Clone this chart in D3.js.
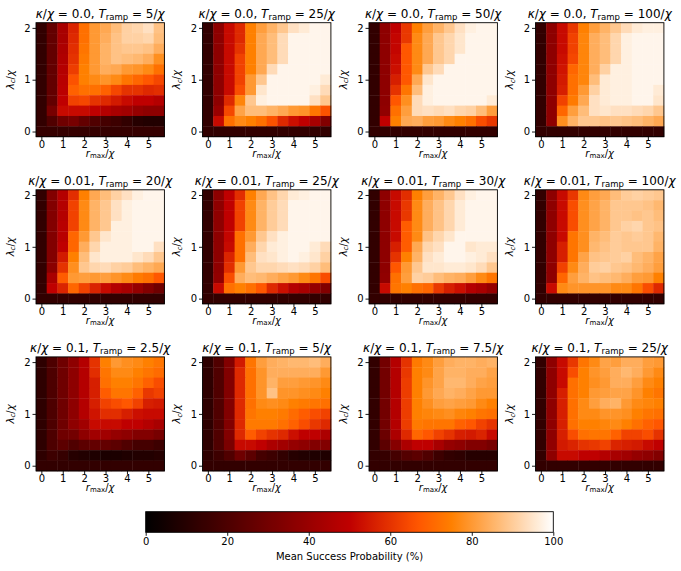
<!DOCTYPE html>
<html><head><meta charset="utf-8">
<script src="https://cdn.jsdelivr.net/npm/d3@7"></script>
<style>
body{margin:0;background:#fff}
svg{display:block}
text{font-family:"DejaVu Sans",sans-serif;fill:#000}
</style></head>
<body><svg id="c" width="681" height="571"></svg>
<script>
// ---------- data ----------
const rMax = [0, 0.5, 1, 1.5, 2, 2.5, 3, 3.5, 4, 4.5, 5, 5.5];
const lambdaC = [2.0, 1.8, 1.6, 1.4, 1.2, 1.0, 0.8, 0.6, 0.4, 0.2, 0.0]; // rows, top to bottom
const kappaLabels = ["0.0", "0.01", "0.1"];
const rampLabels = [["5", "25", "50", "100"], ["20", "25", "30", "100"], ["2.5", "5", "7.5", "25"]];
const xTicks = [0, 1, 2, 3, 4, 5];
const yTicks = [0, 1, 2];
const cbTicks = [0, 20, 40, 60, 80, 100];

// Mean success probability (%) ; rows = lambdaC (2.0 -> 0.0), columns = rMax
const succ_k0_T5 = [
 [13,26,44,57,72,80,83,87,91,92,94,88],
 [13,26,44,58,72,80,84,88,91,91,92,87],
 [13,26,45,59,73,80,85,88,89,89,88,84],
 [13,26,46,60,74,80,85,88,87,86,84,78],
 [13,26,47,62,75,80,84,83,80,79,77,72],
 [13,26,48,66,75,77,79,77,73,70,67,64],
 [13,26,49,69,72,72,69,64,60,60,58,59],
 [13,26,50,63,64,60,58,55,52,50,50,47],
 [13,31,52,52,52,50,47,44,42,39,37,37],
 [13,21,29,31,26,21,18,16,13,10,9,9],
 [14,14,14,14,14,14,14,14,14,14,14,14]];
const succ_k0_T25 = [
 [13,37,52,58,75,81,85,89,94,96,98,98],
 [13,37,52,58,75,83,87,93,98,98,98,98],
 [13,37,52,60,75,83,87,93,98,98,98,98],
 [13,37,52,63,75,83,87,93,98,98,98,98],
 [13,37,52,63,75,83,93,98,98,98,98,98],
 [13,37,52,63,80,89,98,98,98,98,98,96],
 [13,37,52,65,80,95,98,98,98,98,97,93],
 [13,37,58,76,89,97,98,98,98,98,94,89],
 [13,40,64,82,87,87,85,83,80,79,73,66],
 [13,52,72,77,75,72,66,58,53,50,44,34],
 [13,13,13,13,13,13,13,13,13,13,13,13]];
const succ_k0_T50 = [
 [13,37,50,61,75,81,85,89,94,97,98,98],
 [13,37,51,61,77,83,89,92,95,98,98,98],
 [13,37,51,67,77,83,89,92,95,98,98,98],
 [13,37,52,67,77,83,89,92,98,98,98,98],
 [13,37,53,67,77,89,93,98,98,98,98,98],
 [13,37,56,67,83,95,98,98,98,98,98,98],
 [13,37,60,73,87,97,98,98,98,98,98,98],
 [13,37,67,78,93,97,98,98,98,98,98,96],
 [13,38,72,81,93,94,93,94,92,91,87,81],
 [13,50,75,83,84,81,80,77,75,72,65,61],
 [13,13,13,13,13,13,13,13,13,13,13,13]];
const succ_k0_T100 = [
 [13,37,52,61,75,81,85,89,93,96,97,97],
 [13,37,52,63,76,84,87,92,97,98,98,98],
 [13,37,52,63,76,84,87,92,97,98,98,98],
 [13,37,53,64,76,84,87,92,97,98,98,98],
 [13,37,54,70,76,84,91,97,97,98,98,98],
 [13,37,55,72,76,87,96,97,97,98,98,98],
 [13,37,56,72,80,91,96,97,97,98,98,96],
 [13,37,63,74,83,94,96,97,97,98,98,95],
 [13,37,70,81,87,94,95,94,94,93,92,89],
 [13,37,78,85,89,89,88,89,88,87,85,83],
 [13,13,13,13,13,13,13,13,13,13,13,13]];
const succ_k001_T20 = [
 [13,34,47,59,75,83,87,91,94,97,98,98],
 [13,34,47,63,77,85,89,94,97,98,98,98],
 [13,34,47,63,77,85,89,94,97,98,98,98],
 [13,34,48,63,77,85,89,97,97,98,98,98],
 [13,34,48,70,80,89,95,97,97,98,98,98],
 [13,34,50,70,84,92,97,97,97,98,98,94],
 [13,34,55,75,87,95,97,97,97,95,93,89],
 [13,36,60,78,89,92,93,91,90,87,85,83],
 [13,44,68,80,81,80,81,79,77,74,72,67],
 [13,50,57,70,63,57,52,47,44,39,34,29],
 [13,13,13,13,13,13,13,13,13,13,13,13]];
const succ_k001_T25 = [
 [13,37,50,59,75,83,88,92,96,97,98,98],
 [13,37,50,63,77,85,90,93,98,98,98,98],
 [13,37,50,63,77,85,90,93,98,98,98,98],
 [13,37,50,63,77,85,90,93,98,98,98,98],
 [13,37,51,72,80,89,94,97,98,98,98,98],
 [13,37,52,72,84,92,96,97,98,98,96,93],
 [13,37,57,72,87,94,95,97,98,97,95,91],
 [13,37,59,80,89,92,92,93,94,93,91,87],
 [13,38,65,84,87,86,84,82,80,77,73,65],
 [13,52,72,75,72,67,58,53,47,44,39,34],
 [13,13,13,13,13,13,13,13,13,13,13,13]];
const succ_k001_T30 = [
 [13,37,52,59,75,81,85,89,94,97,98,98],
 [13,37,52,61,77,84,88,92,96,98,98,98],
 [13,37,52,61,77,84,88,92,96,98,98,98],
 [13,37,52,68,77,84,88,92,96,98,98,98],
 [13,37,52,68,77,88,92,95,98,98,98,98],
 [13,37,56,68,83,92,94,98,98,95,96,96],
 [13,37,60,75,85,94,96,98,98,97,96,94],
 [13,37,67,80,89,95,95,96,96,95,93,89],
 [13,38,72,81,91,90,87,85,84,81,77,73],
 [13,52,73,75,72,70,61,56,53,47,44,39],
 [13,13,13,13,13,13,13,13,13,13,13,13]];
const succ_k001_T100 = [
 [13,37,52,61,77,81,83,87,90,91,90,89],
 [13,37,52,65,78,82,85,89,89,89,88,86],
 [13,37,52,65,78,82,85,89,89,88,89,87],
 [13,37,52,65,78,82,85,89,91,92,89,88],
 [13,37,52,73,78,85,87,90,89,90,89,86],
 [13,37,56,73,78,86,88,90,89,89,89,85],
 [13,37,56,73,82,88,89,90,91,87,85,82],
 [13,37,63,77,84,90,91,89,88,86,84,81],
 [13,37,70,81,85,88,87,86,84,81,80,75],
 [13,52,77,79,79,79,79,77,77,73,65,58],
 [13,13,13,13,13,13,13,13,13,13,13,13]];
const succ_k01_T2p5 = [
 [12,20,29,37,47,60,75,80,78,77,75,73],
 [12,20,29,37,47,59,73,77,77,75,73,71],
 [12,20,29,37,47,56,72,75,75,73,69,65],
 [12,20,29,37,47,56,68,73,73,69,61,63],
 [12,20,29,37,47,56,63,65,67,63,56,55],
 [12,20,29,37,47,54,59,59,56,53,52,52],
 [12,20,29,37,42,52,52,52,50,50,47,44],
 [12,20,29,30,37,42,42,39,37,34,34,31],
 [12,20,24,21,24,26,26,24,21,18,18,16],
 [12,16,14,10,9,8,7,7,8,9,9,10],
 [13,13,13,13,13,13,13,13,13,13,13,13]];
const succ_k01_T5 = [
 [12,21,34,55,73,81,84,85,86,86,87,84],
 [12,21,34,58,72,79,84,84,84,84,84,80],
 [12,21,34,58,72,79,85,81,81,80,79,77],
 [12,21,34,58,72,79,88,79,79,78,77,75],
 [12,21,34,58,72,77,78,77,75,74,73,72],
 [12,21,34,58,73,75,75,74,71,68,65,63],
 [12,21,34,58,74,74,74,72,69,65,61,58],
 [12,21,34,58,68,63,60,58,53,50,50,45],
 [12,21,32,52,52,50,45,42,39,37,34,34],
 [12,16,21,29,24,18,16,13,10,9,8,8],
 [13,13,13,13,13,13,13,13,13,13,13,13]];
const succ_k01_T7p5 = [
 [13,30,47,60,74,77,81,84,85,85,84,85],
 [13,30,47,61,75,77,82,85,85,84,84,82],
 [13,30,47,62,75,79,82,86,86,84,82,81],
 [13,30,47,62,75,80,83,85,84,82,80,80],
 [13,30,47,62,75,78,81,82,81,80,77,75],
 [13,30,47,62,75,76,77,78,76,75,73,72],
 [13,30,47,62,74,73,73,73,69,67,63,60],
 [13,28,45,58,70,67,63,60,56,55,57,52],
 [13,24,35,45,50,50,44,39,37,34,34,31],
 [13,14,18,22,24,21,16,13,12,10,10,10],
 [13,13,13,13,13,13,13,13,13,13,13,13]];
const succ_k01_T25 = [
 [13,37,52,61,73,77,82,81,84,84,81,80],
 [13,37,52,65,75,79,81,84,86,84,80,77],
 [13,37,52,72,75,78,80,84,84,81,77,75],
 [13,37,56,72,75,80,81,82,82,79,75,73],
 [13,37,56,72,77,81,84,85,80,77,76,75],
 [13,37,56,72,77,77,79,79,78,75,73,72],
 [13,37,56,72,75,75,76,77,75,72,69,67],
 [13,37,56,65,72,73,73,69,63,63,65,60],
 [13,38,55,57,60,61,63,57,56,55,52,50],
 [13,37,52,52,50,50,47,44,42,39,37,34],
 [13,13,13,13,13,13,13,13,13,13,13,13]];

const panelGrids = [
  [succ_k0_T5, succ_k0_T25, succ_k0_T50, succ_k0_T100],
  [succ_k001_T20, succ_k001_T25, succ_k001_T30, succ_k001_T100],
  [succ_k01_T2p5, succ_k01_T5, succ_k01_T7p5, succ_k01_T25]
];

// ---------- drawing ----------
const svg = d3.select("#c");
svg.append("rect").attr("width", 681).attr("height", 571).attr("fill", "#fff");

const clamp = v => Math.max(0, Math.min(1, v));
const gistHeat = t => d3.rgb(255 * clamp(1.5 * t), 255 * clamp(2 * t - 1), 255 * clamp(4 * t - 3)).toString();
const color = d3.scaleSequential(gistHeat).domain([0, 100]);

const W = 128.4, H = 114;
const left0 = 36, dxCol = 166.5, top0 = 22.7, dyRow = 167.1;

const x = d3.scaleLinear().domain([-0.25, 5.75]).range([0, W]);
const y = d3.scaleLinear().domain([-0.1, 2.1]).range([H, 0]);
const halfW = 0.25, halfH = 0.1;

function addTitle(g, k, T) {
  const t = g.append("text").attr("x", W / 2).attr("y", -5)
    .attr("text-anchor", "middle").attr("font-size", 12).style("white-space", "pre");
  t.append("tspan").attr("font-style", "italic").text("κ");
  t.append("tspan").text("/");
  t.append("tspan").attr("font-style", "italic").text("χ");
  t.append("tspan").text(" = " + k + ", ");
  t.append("tspan").attr("font-style", "italic").text("T");
  t.append("tspan").attr("font-size", 8.5).attr("dy", 2.5).text("ramp");
  t.append("tspan").attr("dy", -2.5).text(" = " + T + "/");
  t.append("tspan").attr("font-style", "italic").text("χ");
}

panelGrids.forEach((rowPanels, pi) => {
  rowPanels.forEach((grid, pj) => {
    const g = svg.append("g")
      .attr("transform", `translate(${left0 + pj * dxCol},${top0 + pi * dyRow})`);
    const cells = grid.flatMap((row, i) => row.map((v, j) => ({ r: rMax[j], l: lambdaC[i], v })));
    g.append("g").selectAll("rect").data(cells).join("rect")
      .attr("x", d => x(d.r - halfW))
      .attr("y", d => y(d.l + halfH))
      .attr("width", d => x(d.r + halfW) - x(d.r - halfW) + 0.4)
      .attr("height", d => y(d.l - halfH) - y(d.l + halfH) + 0.4)
      .attr("fill", d => color(d.v));
    g.append("rect").attr("width", W).attr("height", H)
      .attr("fill", "none").attr("stroke", "#000").attr("stroke-width", 0.9);

    const ax = g.append("g").attr("transform", `translate(0,${H})`)
      .call(d3.axisBottom(x).tickValues(xTicks).tickSize(3.5).tickPadding(1).tickFormat(d3.format("d")));
    const ay = g.append("g")
      .call(d3.axisLeft(y).tickValues(yTicks).tickSize(3.5).tickPadding(2).tickFormat(d3.format("d")));
    [ax, ay].forEach(a => {
      a.select(".domain").remove();
      a.selectAll("line").attr("stroke", "#000").attr("stroke-width", 0.9);
      a.selectAll("text").attr("font-size", 10).attr("font-family", "DejaVu Sans").attr("fill", "#000");
    });

    addTitle(g, kappaLabels[pi], rampLabels[pi][pj]);

    const xl = g.append("text").attr("x", W / 2).attr("y", H + 20)
      .attr("text-anchor", "middle").attr("font-size", 10);
    xl.append("tspan").attr("font-style", "italic").text("r");
    xl.append("tspan").attr("font-size", 7).attr("dy", 1.6).text("max");
    xl.append("tspan").attr("dy", -1.6).text("/");
    xl.append("tspan").attr("font-style", "italic").text("χ");

    const yl = g.append("text").attr("transform", `translate(-22.5,${H / 2}) rotate(-90)`)
      .attr("text-anchor", "middle").attr("font-size", 10);
    yl.append("tspan").attr("font-style", "italic").text("λ");
    yl.append("tspan").attr("font-size", 7).attr("dy", 1.8).attr("font-style", "italic").text("c");
    yl.append("tspan").attr("dy", -1.8).text("/");
    yl.append("tspan").attr("font-style", "italic").text("χ");
  });
});

// ---------- colorbar ----------
const cbX0 = 145.7, cbX1 = 553.3, cbY = 511.7, cbH = 20.6;
const cbScale = d3.scaleLinear().domain([0, 100]).range([cbX0, cbX1]);
const defs = svg.append("defs");
const grad = defs.append("linearGradient").attr("id", "cbg").attr("x1", "0%").attr("x2", "100%");
grad.selectAll("stop").data(d3.range(0, 101, 1)).join("stop")
  .attr("offset", d => d + "%").attr("stop-color", d => color(d));
svg.append("rect").attr("x", cbX0).attr("y", cbY).attr("width", cbX1 - cbX0).attr("height", cbH)
  .attr("fill", "url(#cbg)").attr("stroke", "#000").attr("stroke-width", 0.9);
const cbAxis = svg.append("g").attr("transform", `translate(0,${cbY + cbH})`)
  .call(d3.axisBottom(cbScale).tickValues(cbTicks).tickSize(3.5).tickPadding(2).tickFormat(d3.format("d")));
cbAxis.select(".domain").remove();
cbAxis.selectAll("line").attr("stroke", "#000").attr("stroke-width", 0.9);
cbAxis.selectAll("text").attr("font-size", 10).attr("font-family", "DejaVu Sans").attr("fill", "#000");
svg.append("text").attr("x", (cbX0 + cbX1) / 2).attr("y", 560)
  .attr("text-anchor", "middle").attr("font-size", 10).text("Mean Success Probability (%)");
</script>
</body></html>
